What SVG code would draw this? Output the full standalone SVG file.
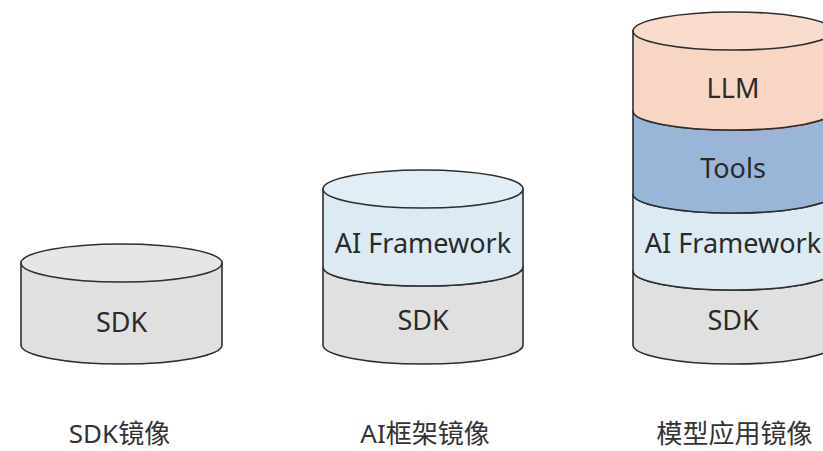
<svg xmlns="http://www.w3.org/2000/svg" width="823" height="451" viewBox="0 0 823 451">
<style>
.lay{stroke:#2e2e2e;stroke-width:1.6;stroke-linejoin:round}
.sdk{fill:#e0e0e0}
.ai{fill:#dbeaf3}
.tools{fill:#99b6d9}
.llm{fill:#f8d6c4}
.lbl{font-family:"Noto Sans","Liberation Sans",sans-serif;font-size:27px;fill:#2a2a2a;text-anchor:middle}
.cap{font-family:"Noto Sans","Noto Sans CJK SC",sans-serif;font-size:26px;fill:#333;text-anchor:middle}
</style>
<rect width="823" height="451" fill="#ffffff"/>
<g id="sdk-image">
  <path class="lay sdk" d="M21,263 L21,345 A100.5,19 0 0 0 222,345 L222,263 Z"/>
  <ellipse class="lay sdk" cx="121.5" cy="263" rx="100.5" ry="19" style="fill:#e6e6e6"/>
  <text class="lbl" x="121.5" y="332">SDK</text>
</g>
<g id="ai-image">
  <path class="lay sdk" d="M323,267 L323,345 A100,19 0 0 0 523,345 L523,267 A100,19 0 0 1 323,267 Z"/>
  <path class="lay ai" d="M323,189 L323,267 A100,19 0 0 0 523,267 L523,189 Z"/>
  <ellipse class="lay ai" cx="423" cy="189" rx="100" ry="19" style="fill:#e1eef6"/>
  <text class="lbl" x="423" y="253">AI Framework</text>
  <text class="lbl" x="423" y="330">SDK</text>
</g>
<g id="app-image">
  <path class="lay sdk" d="M633,271 L633,345 A100,19 0 0 0 833,345 L833,271 A100,19 0 0 1 633,271 Z"/>
  <path class="lay ai" d="M633,194 L633,271 A100,19 0 0 0 833,271 L833,194 A100,19 0 0 1 633,194 Z"/>
  <path class="lay tools" d="M633,111 L633,194 A100,19 0 0 0 833,194 L833,111 A100,19 0 0 1 633,111 Z"/>
  <path class="lay llm" d="M633,31 L633,111 A100,19 0 0 0 833,111 L833,31 Z"/>
  <ellipse class="lay llm" cx="733" cy="31" rx="100" ry="19" style="fill:#fadccd"/>
  <text class="lbl" x="733" y="98">LLM</text>
  <text class="lbl" x="733" y="178">Tools</text>
  <text class="lbl" x="733" y="253">AI Framework</text>
  <text class="lbl" x="733" y="330">SDK</text>
</g>
<g id="captions">
  <text class="cap" x="119.5" y="443">SDK镜像</text>
  <text class="cap" x="425" y="443">AI框架镜像</text>
  <text class="cap" x="734.5" y="443">模型应用镜像</text>
</g>
<g id="connectors"></g>
</svg>
